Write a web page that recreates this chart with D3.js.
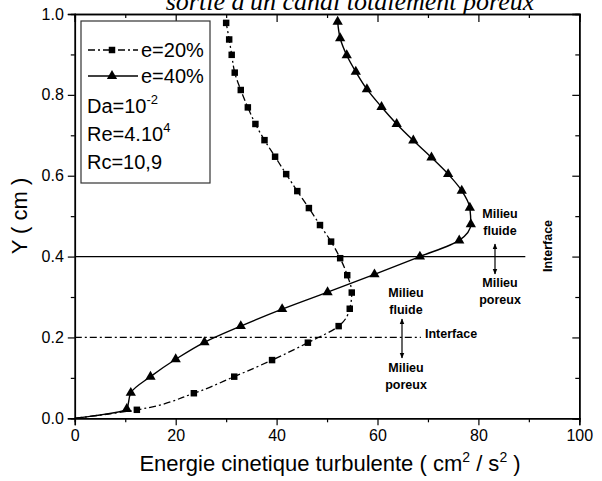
<!DOCTYPE html>
<html>
<head>
<meta charset="utf-8">
<script src="https://cdn.jsdelivr.net/npm/d3@7"></script>
<style>
  body { margin: 0; background: #fff; }
  text { font-family: "Liberation Sans", Arial, sans-serif; fill: #000; }
</style>
</head>
<body>
<div id="chart"></div>
<script>
// e=20% (squares, dash-dot), ordered from bottom to top
const y20 = [0, 0.021, 0.062, 0.103, 0.144, 0.187, 0.228, 0.271, 0.311, 0.354, 0.396, 0.437, 0.478, 0.520, 0.562, 0.604, 0.647, 0.688, 0.728, 0.769, 0.812, 0.855, 0.899, 0.937, 0.978];
const k20 = [0, 12.3, 23.6, 31.6, 39.1, 46.2, 52.3, 54.5, 54.9, 54.0, 52.6, 50.8, 48.6, 46.4, 44.1, 41.9, 39.7, 37.6, 35.8, 34.3, 32.9, 31.7, 31.1, 30.6, 30.0];

// e=40% (triangles, solid)
const y40 = [0, 0.023, 0.063, 0.103, 0.146, 0.188, 0.228, 0.270, 0.312, 0.356, 0.400, 0.440, 0.480, 0.521, 0.563, 0.604, 0.645, 0.687, 0.728, 0.770, 0.814, 0.857, 0.898, 0.940, 0.981];
const k40 = [0, 10.3, 11.1, 15.0, 20.0, 25.7, 32.9, 41.1, 50.1, 59.4, 68.4, 76.2, 78.5, 78.3, 76.7, 74.0, 70.7, 67.1, 63.8, 60.8, 57.9, 55.7, 53.9, 52.6, 52.1];

const xTicks = [0, 20, 40, 60, 80, 100];
const xMinor = [10, 30, 50, 70, 90];
const yTicks = [0, 0.2, 0.4, 0.6, 0.8, 1.0];
const yMinor = [0.1, 0.3, 0.5, 0.7, 0.9];

// interface lines: [Y, end of line on x]
const interface40 = [0.4, 89.3];
const interface20 = [0.2, 68.6];

const W = 602, H = 481;
const svg = d3.select("#chart").append("svg")
  .attr("width", W)
  .attr("height", H);

const x = d3.scaleLinear().domain([0, 100]).range([74.8, 579.3]);
const y = d3.scaleLinear().domain([0, 1]).range([418.3, 14]);

// title, cut off at the top
svg.append("text")
  .attr("x", 350)
  .attr("y", 10)
  .attr("text-anchor", "middle")
  .style("font-family", "'Liberation Serif', 'Times New Roman', serif")
  .style("font-style", "italic")
  .style("font-size", "26px")
  .text("sortie d'un canal totalement poreux");

// white box behind the plot so the title stays cut
svg.append("rect")
  .attr("x", x(0)).attr("y", y(1))
  .attr("width", x(100) - x(0)).attr("height", y(0) - y(1))
  .attr("fill", "#fff");

// axes
const axBottom = svg.append("g").attr("transform", `translate(0,${y(0)})`);
axBottom.call(d3.axisBottom(x).tickValues(xTicks).tickSize(7).tickPadding(4).tickFormat(d3.format("d")));
axBottom.append("g").call(d3.axisBottom(x).tickValues(xMinor).tickSize(4).tickFormat(""));

const axTop = svg.append("g").attr("transform", `translate(0,${y(1)})`);
axTop.call(d3.axisBottom(x).tickValues(xTicks).tickSize(8).tickFormat(""));
axTop.append("g").call(d3.axisBottom(x).tickValues(xMinor).tickSize(4).tickFormat(""));

const axLeft = svg.append("g").attr("transform", `translate(${x(0)},0)`);
axLeft.call(d3.axisLeft(y).tickValues(yTicks).tickSize(7).tickPadding(4).tickFormat(d3.format(".1f")));
axLeft.append("g").call(d3.axisLeft(y).tickValues(yMinor).tickSize(4).tickFormat(""));

const axRight = svg.append("g").attr("transform", `translate(${x(100)},0)`);
axRight.call(d3.axisLeft(y).tickValues(yTicks).tickSize(7).tickFormat(""));
axRight.append("g").call(d3.axisLeft(y).tickValues(yMinor).tickSize(4).tickFormat(""));

svg.selectAll(".domain").attr("stroke", "#000").attr("stroke-width", 1.5);
svg.selectAll(".tick line").attr("stroke", "#000").attr("stroke-width", 1.2);
svg.selectAll(".tick text")
  .style("font-size", "16px")
  .style("font-family", "'Liberation Sans', Arial, sans-serif");

// interface lines
svg.append("line")
  .attr("x1", x(0)).attr("x2", x(interface40[1]))
  .attr("y1", y(interface40[0])).attr("y2", y(interface40[0]))
  .attr("stroke", "#000").attr("stroke-width", 1.3);
svg.append("line")
  .attr("x1", x(0)).attr("x2", x(interface20[1]))
  .attr("y1", y(interface20[0])).attr("y2", y(interface20[0]))
  .attr("stroke", "#000").attr("stroke-width", 1.2)
  .attr("stroke-dasharray", "7,3,2,3");

// curves
const data20 = y20.map(function(d, i) { return { x: k20[i], y: d } });
const data40 = y40.map(function(d, i) { return { x: k40[i], y: d } });

const line = d3.line()
  .x(function(d) { return x(d.x) })
  .y(function(d) { return y(d.y) })
  .curve(d3.curveMonotoneY);

svg.append("path")
  .datum(data20)
  .attr("d", line)
  .attr("fill", "none")
  .attr("stroke", "#000")
  .attr("stroke-width", 1.3)
  .attr("stroke-dasharray", "7,3,2,3");

svg.append("path")
  .datum(data40)
  .attr("d", line)
  .attr("fill", "none")
  .attr("stroke", "#000")
  .attr("stroke-width", 1.4);

const sq = d3.symbol().type(d3.symbolSquare).size(42);
const tri = d3.symbol().type(d3.symbolTriangle).size(46);

svg.selectAll(".sq")
  .data(data20.slice(1))
  .enter()
  .append("path")
  .attr("class", "sq")
  .attr("d", sq)
  .attr("transform", function(d) { return `translate(${x(d.x)},${y(d.y)})` })
  .attr("fill", "#000");

svg.selectAll(".tri")
  .data(data40.slice(1))
  .enter()
  .append("path")
  .attr("class", "tri")
  .attr("d", tri)
  .attr("transform", function(d) { return `translate(${x(d.x)},${y(d.y)})` })
  .attr("fill", "#000");

// legend
const lg = svg.append("g");
lg.append("rect")
  .attr("x", 81).attr("y", 21).attr("width", 129).attr("height", 162)
  .attr("fill", "#fff").attr("stroke", "#333").attr("stroke-width", 1.2);

lg.append("line")
  .attr("x1", 88).attr("x2", 138).attr("y1", 50).attr("y2", 50)
  .attr("stroke", "#000").attr("stroke-width", 1.3).attr("stroke-dasharray", "7,3,2,3");
lg.append("path").attr("d", sq).attr("transform", "translate(112,50)");
lg.append("line")
  .attr("x1", 88).attr("x2", 138).attr("y1", 76).attr("y2", 76)
  .attr("stroke", "#000").attr("stroke-width", 1.4);
lg.append("path").attr("d", tri).attr("transform", "translate(112,76)");

const legendFont = "20px";
lg.append("text").attr("x", 141).attr("y", 57).style("font-size", legendFont).text("e=20%");
lg.append("text").attr("x", 141).attr("y", 83).style("font-size", legendFont).text("e=40%");

const da = lg.append("text").attr("x", 87).attr("y", 113).style("font-size", legendFont);
da.append("tspan").text("Da=10");
da.append("tspan").attr("dy", -9).style("font-size", "13px").text("-2");

const re = lg.append("text").attr("x", 87).attr("y", 141).style("font-size", legendFont);
re.append("tspan").text("Re=4.10");
re.append("tspan").attr("dy", -9).style("font-size", "13px").text("4");

lg.append("text").attr("x", 87).attr("y", 169).style("font-size", legendFont).text("Rc=10,9");

// annotations
svg.append("defs").append("marker")
  .attr("id", "ah")
  .attr("viewBox", "0 0 10 10")
  .attr("refX", 9).attr("refY", 5)
  .attr("markerWidth", 5).attr("markerHeight", 7)
  .attr("orient", "auto-start-reverse")
  .append("path").attr("d", "M0,1 L10,5 L0,9 Z").attr("fill", "#000");

function note(xp, lines, y0) {
  lines.forEach(function(t, i) {
    svg.append("text")
      .attr("x", xp).attr("y", y0 + i * 17)
      .attr("text-anchor", "middle")
      .style("font-size", "12.5px").style("font-weight", "bold")
      .text(t);
  });
}
function arrow(xp, y1, y2) {
  svg.append("line")
    .attr("x1", xp).attr("x2", xp).attr("y1", y1).attr("y2", y2)
    .attr("stroke", "#000").attr("stroke-width", 1.2)
    .attr("marker-start", "url(#ah)").attr("marker-end", "url(#ah)");
}

note(500, ["Milieu", "fluide"], 218);
arrow(495, 244, 274);
note(500, ["Milieu", "poreux"], 287);

note(406, ["Milieu", "fluide"], 297);
arrow(402, 319, 358);
note(406, ["Milieu", "poreux"], 372);

svg.append("text")
  .attr("x", 425).attr("y", 338)
  .style("font-size", "12.5px").style("font-weight", "bold")
  .text("Interface");

svg.append("text")
  .attr("transform", "translate(552,246) rotate(-90)")
  .attr("text-anchor", "middle")
  .style("font-size", "12.5px").style("font-weight", "bold")
  .text("Interface");

// axis titles
svg.append("text")
  .attr("transform", "translate(27,216) rotate(-90)")
  .attr("text-anchor", "middle")
  .style("font-size", "22px")
  .text("Y ( cm )");

const xl = svg.append("text")
  .attr("x", 330).attr("y", 471)
  .attr("text-anchor", "middle")
  .style("font-size", "22px");
xl.append("tspan").text("Energie cinetique turbulente ( cm");
xl.append("tspan").attr("dy", -9).style("font-size", "14px").text("2");
xl.append("tspan").attr("dy", 9).text(" / s");
xl.append("tspan").attr("dy", -9).style("font-size", "14px").text("2");
xl.append("tspan").attr("dy", 9).text(" )");
</script>
</body>
</html>
